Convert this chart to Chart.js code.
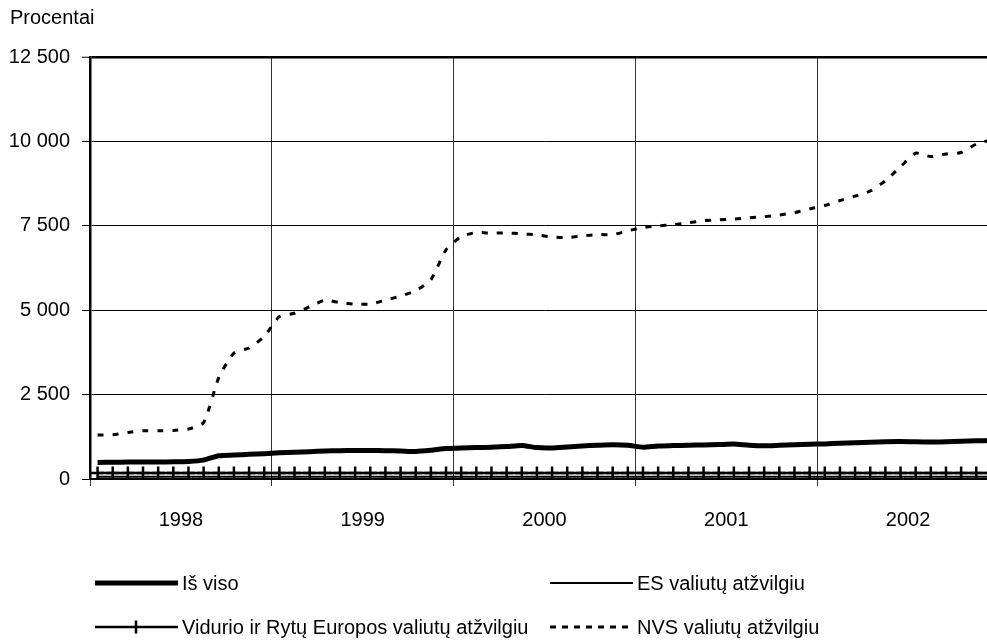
<!DOCTYPE html>
<html>
<head>
<meta charset="utf-8">
<script src="https://cdn.jsdelivr.net/npm/chart.js@4"></script>
<style>
html,body{margin:0;padding:0;background:#fff;overflow:hidden;}
canvas{display:block;}
</style>
</head>
<body>
<canvas id="chart" width="1021" height="642"></canvas>
<script>
// data, one value per month 1998-2002
const years=['1998','1999','2000','2001','2002'];
const isViso=[490,495,500,505,505,510,520,560,690,710,730,750,
  775,790,810,830,840,845,845,840,830,815,850,900,
  920,930,940,960,995,930,920,950,980,1000,1015,1000,
  940,980,990,1000,1010,1020,1035,1000,985,1000,1015,1030,
  1040,1060,1075,1090,1105,1110,1100,1095,1105,1120,1130,1140];
const esVal=[70,70,70,70,70,70,70,70,70,70,70,70,
  70,70,70,70,70,70,70,70,70,70,70,70,
  70,70,70,70,70,70,70,70,70,70,70,70,
  70,70,70,70,70,70,70,70,70,70,70,70,
  70,70,70,70,70,70,70,70,70,70,70,70];
const vreVal=[175,175,175,175,175,175,175,175,175,175,175,175,
  175,175,175,175,175,175,175,175,175,175,175,175,
  175,175,175,175,175,175,175,175,175,175,175,175,
  175,175,175,175,175,175,175,175,175,175,175,175,
  175,175,175,175,175,175,175,175,175,175,175,175];
const nvsVal=[1300,1310,1380,1430,1430,1440,1480,1670,3000,3730,3880,4220,
  4810,4910,5100,5300,5220,5180,5180,5300,5420,5580,5900,6790,
  7180,7300,7280,7290,7260,7230,7170,7150,7200,7240,7240,7350,
  7450,7500,7530,7590,7650,7680,7700,7740,7770,7820,7890,8000,
  8100,8250,8380,8530,8830,9250,9650,9550,9630,9670,9920,10050];
const seriesNames=['Iš viso','ES valiutų atžvilgiu','Vidurio ir Rytų Europos valiutų atžvilgiu','NVS valiutų atžvilgiu'];

const FONT="'Liberation Sans',Arial,sans-serif";
Chart.defaults.font.family=FONT;
Chart.defaults.font.size=20;
Chart.defaults.color='#000';

function pts(arr){ return arr.map((v,i)=>({x:i+0.5,y:v})); }
function fmt(v){ return String(v).replace(/\B(?=(\d{3})+(?!\d))/g,' '); }

// legend drawn under the plot in two columns
const legendPlugin={
  id:'twoColLegend',
  afterDraw(chart){
    const c=chart.ctx;
    const ds=chart.data.datasets;
    const spots=[[95,583],[550,583],[95,627],[550,627]];
    c.save();
    ds.forEach((d,i)=>{
      const [x,y]=spots[i];
      c.strokeStyle='#000';
      c.lineWidth=d.borderWidth;
      c.setLineDash(d.legendDash||[]);
      c.beginPath();c.moveTo(x,y);c.lineTo(x+83,y);c.stroke();
      c.setLineDash([]);
      if(d.pointStyle==='cross'){
        c.lineWidth=2.5;
        c.beginPath();c.moveTo(x+41,y-6.5);c.lineTo(x+41,y+6.5);c.stroke();
      }
      c.fillStyle='#000';
      c.font='20px '+FONT;
      c.textAlign='left';c.textBaseline='middle';
      c.fillText(d.label,x+87,y+1);
    });
    c.restore();
  }
};

const ctx=document.getElementById('chart').getContext('2d');
new Chart(ctx,{
  type:'line',
  data:{
    datasets:[
      {label:seriesNames[0],data:pts(isViso),borderColor:'#000',borderWidth:5,pointRadius:0,tension:0.2},
      {label:seriesNames[1],data:pts(esVal),borderColor:'#000',borderWidth:2,pointRadius:0},
      {label:seriesNames[2],data:pts(vreVal),borderColor:'#000',borderWidth:2.5,pointStyle:'cross',pointRadius:6.5,pointBorderWidth:2.5,pointBorderColor:'#000'},
      {label:seriesNames[3],data:pts(nvsVal),borderColor:'#000',borderWidth:3,borderDash:[6,9],legendDash:[6,6],pointRadius:0,tension:0.2}
    ]
  },
  options:{
    responsive:false,
    animation:false,
    layout:{padding:{left:10,right:0,top:0,bottom:0}},
    plugins:{
      legend:{display:false},
      tooltip:{enabled:false},
      title:{display:true,text:'Procentai',align:'start',color:'#000',
        font:{size:20,weight:'normal'},padding:{top:6,bottom:27}}
    },
    scales:{
      x:{
        type:'linear',min:0,max:60,
        border:{color:'#000',width:1.5},
        grid:{
          color:c=>(c.tick && c.tick.value%12===0)?'#333':'rgba(0,0,0,0)',
          lineWidth:1,tickLength:7,drawOnChartArea:true
        },
        ticks:{stepSize:6,autoSkip:false,maxRotation:0,padding:22,
          callback:v=>(v%12===6)?years[(v-6)/12]:''},
        afterFit:s=>{s.height=163;}
      },
      y:{
        min:0,max:12500,
        border:{color:'#000',width:2.5},
        grid:{color:'#000',lineWidth:c=>(c.tick && c.tick.value===12500)?2.5:1,tickLength:8,tickWidth:1},
        ticks:{stepSize:2500,padding:12,callback:v=>fmt(v)},
        afterFit:s=>{s.width=80;}
      }
    }
  },
  plugins:[legendPlugin]
});
</script>
</body>
</html>
